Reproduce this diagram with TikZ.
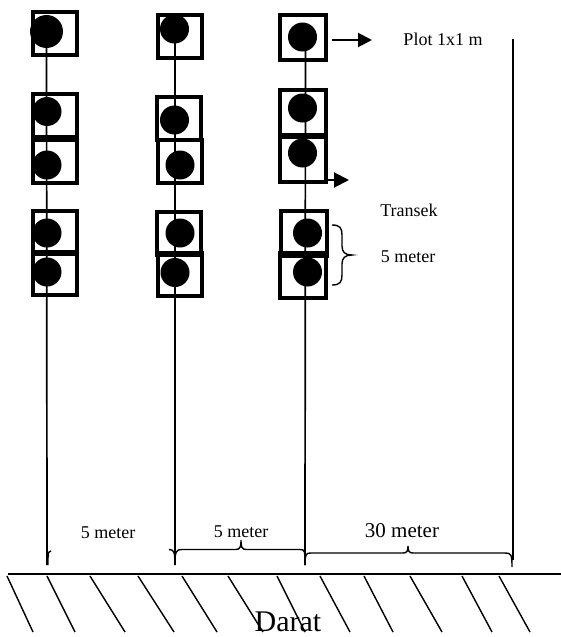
\documentclass[tikz,border=0pt]{standalone}
\usepackage{fontspec}
\setmainfont{Liberation Serif}
\usetikzlibrary{arrows.meta}
\begin{document}
\begin{tikzpicture}[x=1pt,y=-1pt,
  plotbox/.style={draw,line width=4pt,rectangle,minimum width=44pt,minimum height=43pt,inner sep=0pt},
  plotbig/.style={plotbox,minimum width=46pt,minimum height=45pt},
  dot/.style={circle,fill=black,inner sep=0pt,minimum size=29pt},
  bigdot/.style={dot,minimum size=33pt},
  transect/.style={line width=1.7pt},
  bracel/.style={line width=1.4pt},
  hatch/.style={line width=1.4pt},
  lbl/.style={font=\fontsize{18}{20}\selectfont,inner sep=0pt},
  bigarrow/.style={line width=2pt,-{Triangle[length=14pt,width=14pt]}}]
\useasboundingbox (0,0) rectangle (561,637);
% column 1 plots
\node[plotbox] (p11) at (55,33.5) {};
\node[plotbox] (p12) at (55,115.5) {};
\node[plotbox] (p13) at (55,161.5) {};
\node[plotbox] (p14) at (55,232.5) {};
\node[plotbox] (p15) at (55,273.5) {};
\node[bigdot] (d11) at (46.5,31.5) {};
\node[dot] (d12) at (47,111.5) {};
\node[dot] (d13) at (47,165) {};
\node[dot] (d14) at (47,233) {};
\node[dot] (d15) at (47,272) {};
% column 2 plots
\node[plotbox] (p21) at (180,36) {};
\node[plotbox] (p22) at (179,118) {};
\node[plotbox] (p23) at (180,161) {};
\node[plotbox] (p24) at (179,233) {};
\node[plotbox] (p25) at (180,274.5) {};
\node[dot] (d21) at (174.5,29) {};
\node[dot] (d22) at (174.5,120) {};
\node[dot] (d23) at (180,165) {};
\node[dot] (d24) at (180,233) {};
\node[dot] (d25) at (175,272.5) {};
% column 3 plots
\node[plotbig] (p31) at (303,37) {};
\node[plotbig] (p32) at (303,112.5) {};
\node[plotbig] (p33) at (303,159) {};
\node[plotbig] (p34) at (304,233) {};
\node[plotbig] (p35) at (303,275) {};
\node[dot] (d31) at (302.5,37) {};
\node[dot] (d32) at (302.5,108) {};
\node[dot] (d33) at (302.5,153) {};
\node[dot] (d34) at (307.5,233) {};
\node[dot] (d35) at (307.5,272) {};
% transect lines
\coordinate (e1) at (47,565);
\coordinate (e2) at (175,565);
\coordinate (e3) at (305,565);
\coordinate (r1) at (513,39);
\coordinate (r2) at (513,560);
\draw[transect] (d11.center) -- (e1);
\draw[transect] (175,16) -- (e2);
\draw[transect] (305.5,37) -- (e3);
\draw[transect] (r1) -- (r2);
% labels and arrows
\node[lbl] (plot) at (443,39) {Plot 1x1 m};
\coordinate (a1) at (332,40);
\coordinate (a2) at (372,40);
\draw[bigarrow] (a1) -- (a2);
\node[lbl] (tr) at (409,210) {Transek};
\coordinate (t1) at (327,180);
\coordinate (t2) at (349,180);
\draw[line width=2pt,-{Triangle[length=15pt,width=15pt]}] (t1) -- (t2);
\node[lbl] (m5) at (408,257) {5 meter};
\draw[bracel] (332,225) .. controls (340,225) and (342,228) .. (342,235) -- (342,246)
  .. controls (342,252) and (345,255) .. (352,255)
  .. controls (345,255) and (342,258) .. (342,264) -- (342,275)
  .. controls (342,282) and (340,285) .. (332,285);
% bottom braces
\node[lbl] (b1) at (108,533) {5 meter};
\node[lbl] (b2) at (241,532) {5 meter};
\node[lbl,font=\fontsize{21}{23}\selectfont] (b3) at (402,531) {30 meter};
\draw[bracel] (51,551) .. controls (48,552) .. (48,565);
\draw[bracel] (169,549.5) .. controls (174,549.5) and (175,552) .. (175,565);
\draw[bracel] (e2) .. controls (175,551) and (176,549.5) .. (182,549.5) -- (236,549.5)
  .. controls (240,549.5) and (241,547) .. (241,540)
  .. controls (241,547) and (242,549.5) .. (246,549.5) -- (300,549.5)
  .. controls (305,549.5) and (305,551) .. (e3);
\draw[bracel] (e3) .. controls (305,554) and (306,553) .. (311,553) -- (403,553)
  .. controls (407,553) and (408,551) .. (408,546)
  .. controls (408,551) and (409,553) .. (413,553) -- (505,553)
  .. controls (511,553) and (512,554) .. (512,567);
% ground
\coordinate (g1) at (8,574);
\coordinate (g2) at (561,574);
\draw[line width=2.6pt] (g1) -- (g2);
\foreach \a/\b in {7/33,47/75,90/125,138/174,182/217,228/263,277/305,320/350,364/393,410/442,462/492,499/530}
  \draw[hatch] (\a,576) -- (\b,632);
\node[font=\fontsize{30}{32}\selectfont,inner sep=0pt,anchor=base] (darat) at (288,631) {Darat};
\end{tikzpicture}
\end{document}
